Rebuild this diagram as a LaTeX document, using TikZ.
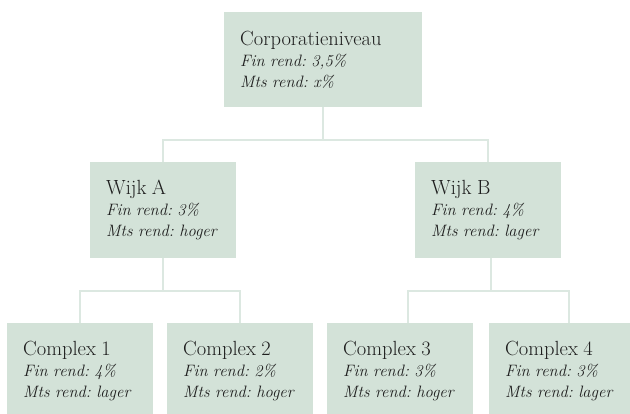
\documentclass[tikz,border=0pt]{standalone}
\usepackage{tikz}
\usetikzlibrary{positioning,calc}
\definecolor{boxfill}{HTML}{D3E2D8}
\definecolor{linkline}{HTML}{DCE8E1}
\definecolor{ink}{HTML}{1E1E1E}
\newcommand{\unitname}[1]{{\fontsize{20.5}{21}\selectfont #1}\\}
\newcommand{\rend}[2]{\textit{Fin rend: #1}\\\textit{Mts rend: #2}}
\frenchspacing

\begin{document}
\begin{tikzpicture}[x=1pt, y=1pt,
  unit/.style={fill=boxfill, text=ink, anchor=north west, align=left, inner xsep=16pt, inner ysep=0pt,
    text width=114pt, minimum height=96pt, font=\fontsize{16.5}{21}\selectfont},
  link/.style={draw=linkline, line width=1.5pt}]
\useasboundingbox (0,0) rectangle (630,-414);
\clip (0,0) rectangle (630,-414);
% boxes
\node[unit, text width=166pt, minimum height=95pt] (corp) at (224,-12) {\unitname{Corporatieniveau}\rend{3,5\%}{x\%}};
\node[unit] (wijkA) at (90,-162) {\unitname{Wijk A}\rend{3\%}{hoger}};
\node[unit] (wijkB) at (415,-162) {\unitname{Wijk B}\rend{4\%}{lager}};
\node[unit] (cx1) at (7,-323) {\unitname{Complex 1}\rend{4\%}{lager}};
\node[unit] (cx2) at (167,-323) {\unitname{Complex 2}\rend{2\%}{hoger}};
\node[unit] (cx3) at (327,-323) {\unitname{Complex 3}\rend{3\%}{hoger}};
\node[unit] (cx4) at (489,-323) {\unitname{Complex 4}\rend{3\%}{lager}};
% connectors
\coordinate (busTop) at (corp.south |- 0,-140);
\coordinate (busA) at (wijkA.south |- 0,-291);
\coordinate (busB) at ($(wijkB.south |- 0,-291)+(3,0)$);
\draw[link] (corp.south) -- (busTop);
\draw[link] (wijkA.north) |- (busTop) -| (wijkB.north);
\draw[link] (wijkA.south) -- (busA);
\draw[link] (cx1.north) |- (busA) -| (cx2.north);
\draw[link] ([xshift=3pt]wijkB.south) -- (busB);
\draw[link] ([xshift=8pt]cx3.north) |- (busB) -| ([xshift=7pt]cx4.north);
\end{tikzpicture}
\end{document}
